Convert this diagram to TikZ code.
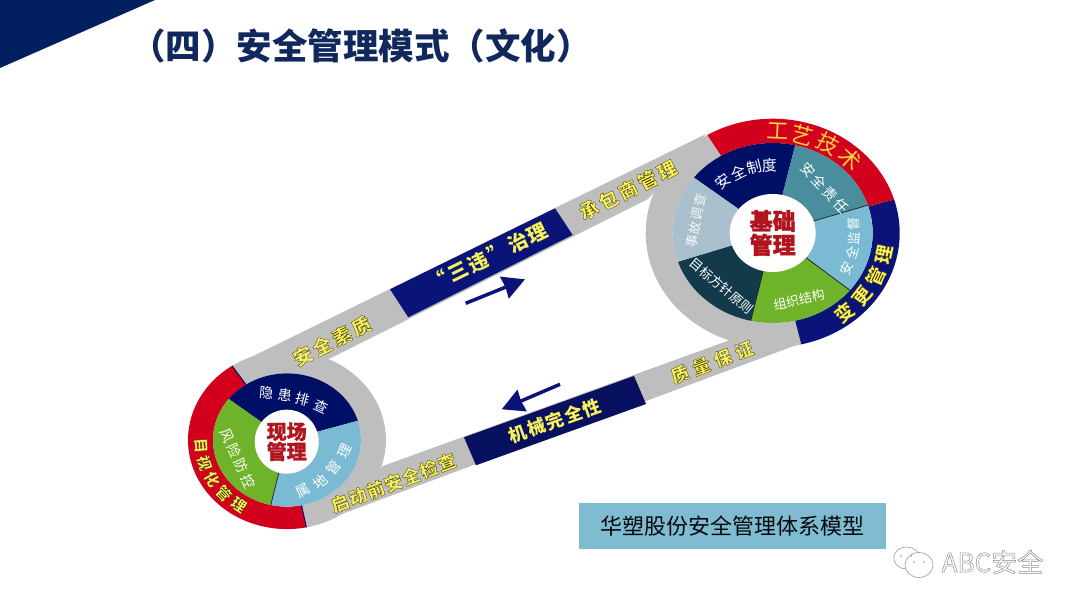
\documentclass[tikz,border=0pt]{standalone}
\usepackage{fontspec}
\newfontfamily\cjk{Noto Sans CJK SC}
\usetikzlibrary{arrows.meta,shapes.geometric,calc}
\definecolor{beltgray}{HTML}{BEBEBE}
\definecolor{ringred}{HTML}{D2001C}
\definecolor{ringnavy}{HTML}{0A1478}
\definecolor{segnavy}{HTML}{000F66}
\definecolor{segteal}{HTML}{4A8E9E}
\definecolor{segblue}{HTML}{7ABBD3}
\definecolor{seggreen}{HTML}{6FB32A}
\definecolor{segdark}{HTML}{123A4A}
\definecolor{segpale}{HTML}{A9BFCB}
\definecolor{coretext}{HTML}{B0141E}
\definecolor{titlenavy}{HTML}{10285C}
\definecolor{cornernavy}{HTML}{02205F}
\definecolor{bannerblue}{HTML}{7FBBD1}
\definecolor{beltyellow}{HTML}{F7F25C}
\definecolor{craftyellow}{HTML}{F6D23C}
% outlined text: line width, stroke colour, text
\newcommand{\stroked}[3]{\special{pdf:code 2 Tr #1 w #2 RG}#3\special{pdf:code 0 Tr}}
\newcommand{\outlined}[1]{\stroked{0.3}{0.25 0.22 0}{#1}}
\tikzset{
  beltlabel/.style={inner sep=0pt,text=beltyellow,font=\cjk\bfseries\fontsize{18}{18}\selectfont},
  seglabel/.style={inner sep=0pt,text=white,font=\cjk\fontsize{14}{14}\selectfont},
  thinlabel/.style={seglabel,font=\cjk\fontsize{13}{13}\selectfont},
  corelabel/.style={ellipse,fill=white,inner sep=0pt,align=center,text=coretext},
}
\begin{document}
\begin{tikzpicture}[x=1pt,y=1pt,>=Stealth]
  \useasboundingbox (0,0) rectangle (1080,608);
  \fill[cornernavy] (0,608) -- (155,608) -- (0,540) -- cycle;
  \node[inner sep=0pt,text=titlenavy,font=\cjk\bfseries\fontsize{35.5}{36}\selectfont] (title) at (361,562) {（四）安全管理模式（文化）};

  % belts
  \fill[beltgray] (233,242) -- (706,474) -- (648,409) -- (327,248) -- cycle;
  \fill[beltgray] (307,81) -- (802,265) -- (730,268) -- (383,142) -- cycle;
  \fill[ringnavy] (390,318.7) -- (555,399.7) -- (572.7,373) -- (408.3,290.7) -- cycle;
  \fill[ringnavy!80!black] (464,170.7) -- (634,232) -- (646,204) -- (476,142.7) -- cycle;

  % big wheel
  \begin{scope}[shift={(772.7,375)},yscale=.9]
    \fill[beltgray] (121:127) arc (121:283:127) -- (283:100) arc (283:121:100) -- cycle;
    \fill[ringred] (121:127) arc (121:17:127) -- (17:100) arc (17:121:100) -- cycle;
    \fill[ringnavy] (17:127) arc (17:-77:127) -- (-77:100) arc (-77:17:100) -- cycle;
    \foreach \from/\to/\col in {77/142/segnavy,18/77/segteal,-39.5/18/segblue,-102.7/-39.5/seggreen,-161.4/-102.7/segdark,142/198.6/segpale}
      \fill[\col] (0,0) -- (\from:100) arc (\from:\to:100) -- cycle;
    \foreach \ang in {18,-39.5,-102.7}
      \draw[black!85,line width=.8pt] (\ang:40) -- (\ang:100);
  \end{scope}
  \node[corelabel,minimum width=86pt,minimum height=78pt,font=\cjk\bfseries\fontsize{23}{24}\selectfont] (bigcore) at (772.7,375) {\stroked{0.3}{0.69 0.08 0.12}{基础}\\\stroked{0.3}{0.69 0.08 0.12}{管理}};

  % small wheel
  \begin{scope}[shift={(287,168)},yscale=.9]
    \fill[beltgray] (123.7:99) arc (123.7:-78.7:99) -- (-78.7:74) arc (-78.7:123.7:74) -- cycle;
    \fill[ringred] (123.7:99) arc (123.7:281.3:99) -- (281.3:74) arc (281.3:123.7:74) -- cycle;
    \foreach \from/\to/\col in {16.8/142/segnavy,142/257.3/seggreen,-102.7/16.8/segblue}
      \fill[\col] (0,0) -- (\from:74) arc (\from:\to:74) -- cycle;
    \draw[segnavy,line width=1pt] (123.7:74) -- (123.7:99);
    \draw[segnavy,line width=1pt] (-78.7:74) -- (-78.7:99);
    \draw[black!85,line width=.8pt] (-102.7:30) -- (-102.7:74);
  \end{scope}
  \node[corelabel,minimum width=64pt,minimum height=64pt,font=\cjk\bfseries\fontsize{20}{20}\selectfont] (smallcore) at (286.7,166.3) {\stroked{0.2}{0.69 0.08 0.12}{现场}\\\stroked{0.2}{0.69 0.08 0.12}{管理}};

  % labels on the belts
  \node[beltlabel,rotate=27,font=\cjk\bfseries\fontsize{19}{19}\selectfont] (upperc) at (628,418) {\addfontfeature{LetterSpace=15}\outlined{承包商管理}};
  \node[beltlabel,rotate=26,font=\cjk\bfseries\fontsize{20}{20}\selectfont] (upperb) at (488,351) {\addfontfeature{LetterSpace=10}“三违”治理};
  \node[beltlabel,rotate=27,font=\cjk\bfseries\fontsize{19}{19}\selectfont] (uppera) at (332,267) {\addfontfeature{LetterSpace=15}\outlined{安全素质}};
  \node[beltlabel,rotate=20.6] (lowerc) at (712,246) {\addfontfeature{LetterSpace=27}\outlined{质量保证}};
  \node[beltlabel,rotate=19.5] (lowerb) at (555,187.3) {\addfontfeature{LetterSpace=9}机械完全性};
  \node[beltlabel,rotate=21] (lowera) at (393.3,125.3) {\addfontfeature{LetterSpace=6}\outlined{启动前安全检查}};

  % labels on the wheels
  \foreach \ch/\ang [count=\i] in {工/87.4,艺/74.8,技/61,术/46.8}
    \node[beltlabel,rotate=\ang-90,text=craftyellow,font=\cjk\fontsize{22}{22}\selectfont] (craft\i) at ($(772.7,375)+(\ang:113.5 and 102)$) {\ch};
  \foreach \ch/\ang [count=\i] in {变/-51,更/-38,管/-25,理/-12}
    \node[beltlabel,rotate=\ang+90,font=\cjk\bfseries\fontsize{19}{19}\selectfont] (change\i) at ($(772.7,375)+(\ang:113.5 and 102)$) {\outlined{\ch}};
  \foreach \ch/\ang [count=\i] in {目/184,视/197,化/210,管/223,理/236}
    \node[beltlabel,rotate=\ang+90,font=\cjk\bfseries\fontsize{15}{15}\selectfont] (visual\i) at ($(287,168)+(\ang:86.5 and 78)$) {\outlined{\ch}};
  \foreach \ch/\ang/\rot [count=\i] in {安/131/38,全/117/27,制/104/14,度/92.5/3}
    \node[seglabel,font=\cjk\fontsize{15}{15}\selectfont,rotate=\rot] (rules\i) at ($(772.7,375)+(\ang:76 and 68)$) {\ch};
  \node[seglabel,rotate=-47] (duty) at (824.7,419.7) {\addfontfeature{LetterSpace=18}安全责任};
  \foreach \ch/\x/\y/\rot [count=\i] in {安/846.7/339.7/65,全/851.7/354.7/75,监/854/369.7/85,督/854/384/90}
    \node[thinlabel,rotate=\rot] (watch\i) at (\x,\y) {\ch};
  \node[thinlabel,rotate=13] (org) at (799,308) {组织结构};
  \node[thinlabel,rotate=-40] (goal) at (721.7,322) {目标方针原则};
  \node[thinlabel,rotate=78,text=white!90!segpale] (accident) at (696,387) {\addfontfeature{LetterSpace=8}事故调查};
  \foreach \ch/\ang/\rad/\rot [count=\i] in {隐/111.6/56/-5,患/92.6/50/-8,排/70.7/48/-15,查/47.4/51/-25}
    \node[seglabel,rotate=\rot] (hazard\i) at ($(287,168)+(\ang:\rad*1 and \rad*.9)$) {\ch};
  \node[seglabel,rotate=-65] (risk) at (237.7,149.7) {\addfontfeature{LetterSpace=21}风险防控};
  \foreach \ch/\ang/\rad/\rot [count=\i] in {属/-74/58/30,地/-54.8/57/40,管/-34/56/52,理/-12.4/59/65}
    \node[seglabel,rotate=\rot] (site\i) at ($(287,168)+(\ang:\rad*1 and \rad*.9)$) {\ch};

  % direction arrows
  \coordinate (upa) at (465.7,304.7);
  \coordinate (upb) at (525,328.7);
  \coordinate (downa) at (560,223.7);
  \coordinate (downb) at (501.7,198.7);
  \draw[-{Stealth[length=22pt,width=23pt,inset=1pt]},ringnavy,line width=3.5pt] (upa) -- (upb);
  \draw[-{Stealth[length=22pt,width=23pt,inset=1pt]},ringnavy,line width=3.5pt] (downa) -- (downb);

  % banner
  \node[fill=bannerblue,minimum width=307pt,minimum height=46pt,inner sep=0pt,text=black!85!segdark,font=\cjk\fontsize{22}{22}\selectfont] (banner) at (732.5,81.7) {华塑股份安全管理体系模型};

  % watermark
  \draw[black!35,line width=.7pt,fill=white] (906.7,50) ellipse (13 and 11);
  \draw[black!35,line width=.7pt,fill=white] (919,43) ellipse (14 and 12.5);
  \fill[black!35] (901,52) circle (1) (911,52) circle (1) (914,46) circle (1) (924,46) circle (1);
  \node[inner sep=0pt,text=white,font=\cjk\fontsize{26}{26}\selectfont] (mark) at (992.5,46) {\stroked{0.5}{0.55 0.55 0.55}{ABC安全}};
\end{tikzpicture}
\end{document}
